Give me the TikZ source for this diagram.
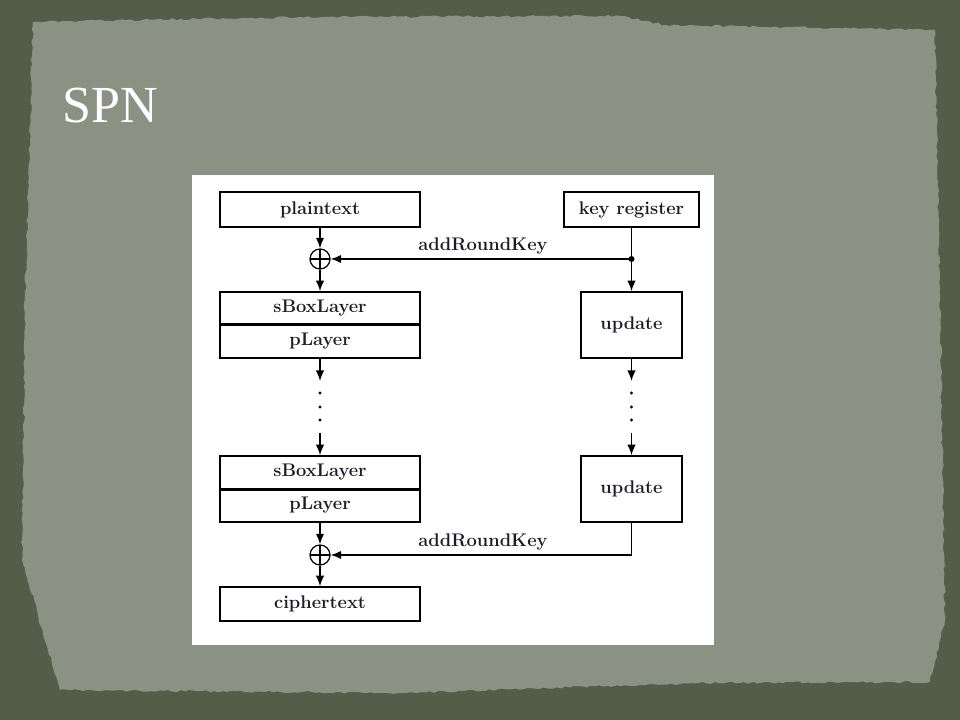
\documentclass[tikz,border=0pt]{standalone}
\usepackage{fontspec}
\newfontfamily\titlefont{Liberation Serif}
\usepackage{xcolor}
\usetikzlibrary{positioning,arrows.meta,decorations.pathmorphing}
\definecolor{slateout}{RGB}{84,92,74}
\definecolor{slatein}{RGB}{139,145,131}
\definecolor{inkdark}{RGB}{28,28,40}
\begin{document}
\begin{tikzpicture}
		[x=0.025cm,y=-0.025cm,
		box/.style={draw,line width=1.1pt,minimum width=5cm,inner sep=0pt,text=inkdark,font=\bfseries\fontsize{13}{15}\selectfont\addfontfeatures{LetterSpace=5}},
		xorop/.style={draw,circle,line width=0.9pt,minimum size=0.5cm,inner sep=0pt,
			path picture={\draw[line width=0.9pt] (path picture bounding box.north) -- (path picture bounding box.south)
				(path picture bounding box.west) -- (path picture bounding box.east);}},
		lbl/.style={text=inkdark,font=\bfseries\fontsize{13}{15}\selectfont\addfontfeatures{LetterSpace=5}},
		tip/.style={line width=1.1pt,-{Latex[length=7.5pt,width=6pt]}},
		wire/.style={line width=1.1pt}]
		\useasboundingbox (0,0) rectangle (960,720);
		\pgfmathsetseed{7}
		\fill[slateout] (0,0) rectangle (960,720);
		\fill[slatein,decorate,decoration={random steps,segment length=3pt,amplitude=0.8pt}]
			(33,22) -- (300,17) -- (620,16) -- (665,25) -- (935,30) -- (940,300) -- (945,620) -- (930,682)
			-- (700,683) -- (400,693) -- (60,690) -- (22,560) -- (25,300) -- cycle;
		\node[anchor=base west,text=white,font=\titlefont\fontsize{37}{40}\selectfont] (title) at (58,123) {SPN};
		\fill[white] (192,175) rectangle (714,645);
		\node[box,minimum height=0.875cm] (plain) at (320,209.5) {plaintext};
		\node[box,minimum width=3.375cm,minimum height=0.875cm] (keyreg) at (631.5,209.5) {key register};
		\node[xorop] (xor1) at (320,259) {};
		\coordinate (kj) at (631.5,259);
		\node[lbl] (ark1) at (483,246) {addRoundKey};
		\node[box,minimum height=0.8cm] (sbox1) at (320,308) {sBoxLayer};
		\node[box,minimum height=0.85cm] (play1) at (320,341) {pLayer};
		\node[box,minimum width=2.525cm,minimum height=1.65cm] (upd1) at (631.5,325) {update};
		\coordinate (gapA) at (320,381);
		\coordinate (gapB) at (320,433);
		\coordinate (gapC) at (631.5,381);
		\coordinate (gapD) at (631.5,433);
		\node[box,minimum height=0.825cm] (sbox2) at (320,472.5) {sBoxLayer};
		\node[box,minimum height=0.825cm] (play2) at (320,505.5) {pLayer};
		\node[box,minimum width=2.525cm,minimum height=1.65cm] (upd2) at (631.5,489) {update};
		\node[xorop] (xor2) at (320,555) {};
		\node[lbl] (ark2) at (483,542) {addRoundKey};
		\node[box,minimum height=0.85cm] (cipher) at (320,604) {ciphertext};
		\draw[line width=2pt] (sbox1.south west) -- (sbox1.south east);
		\draw[line width=2pt] (sbox2.south west) -- (sbox2.south east);
		\draw[tip] (plain) -- (xor1);
		\draw[tip] (xor1) -- (sbox1);
		\draw[wire] (keyreg) -- (kj);
		\fill (kj) circle (3);
		\draw[tip] (kj) -- (xor1);
		\draw[tip] (kj) -- (upd1);
		\draw[tip] (play1) -- (gapA);
		\draw[tip] (upd1) -- (gapC);
		\foreach \y in {393,407,420} {
			\fill (320,\y) circle (1.6);
			\fill (631.5,\y) circle (1.6);}
		\draw[tip] (gapB) -- (sbox2);
		\draw[tip] (gapD) -- (upd2);
		\draw[tip] (play2) -- (xor2);
		\draw[tip] (upd2.south) |- (xor2);
		\draw[tip] (xor2) -- (cipher);
\end{tikzpicture}
\end{document}
